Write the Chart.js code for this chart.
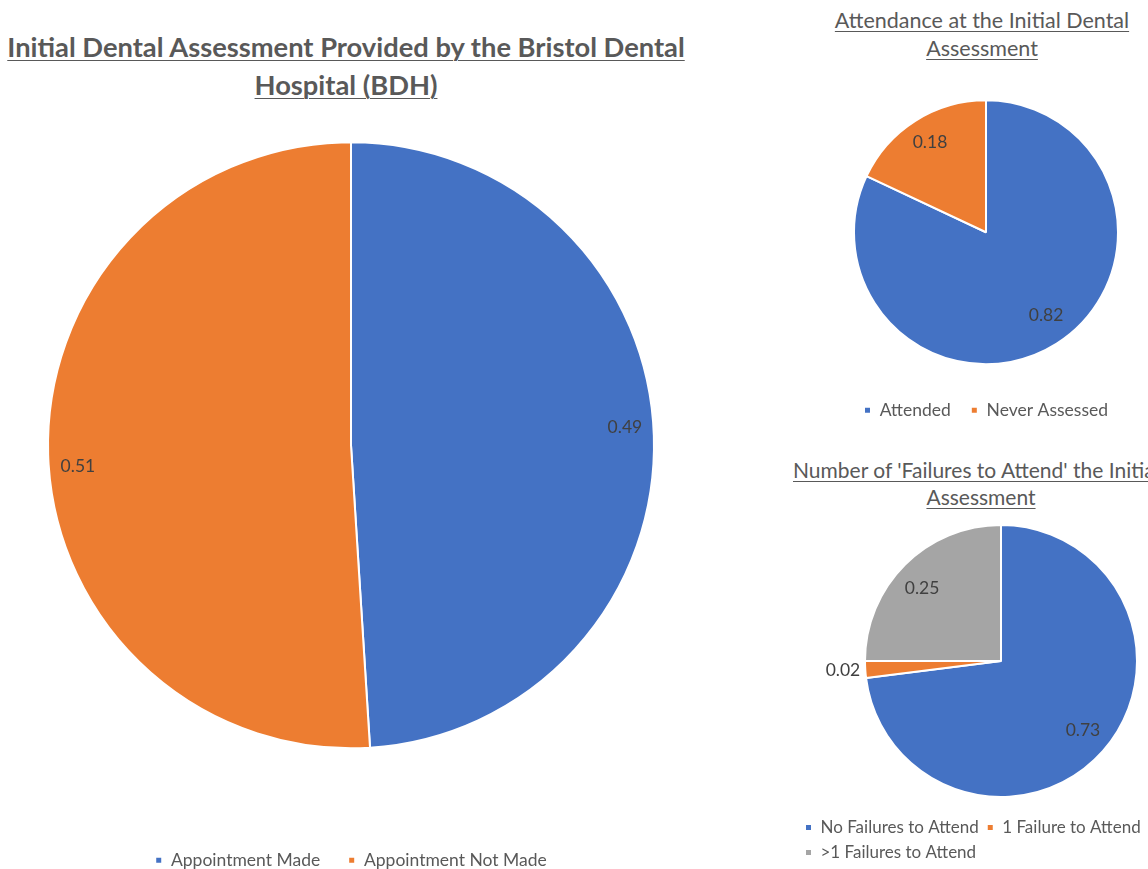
<!DOCTYPE html>
<html>
<head>
<meta charset="utf-8">
<script src="https://cdn.jsdelivr.net/npm/chart.js@4.4.1/dist/chart.umd.min.js"></script>
<style>
  body { margin: 0; background: #fff; overflow: hidden; }
  #page { position: relative; width: 1148px; height: 869px; overflow: hidden; }
  canvas { position: absolute; }
  .titulo {
    position: absolute;
    text-align: center;
    white-space: nowrap;
    color: #595959;
    font-family: Lato, "Open Sans", sans-serif;
  }
  .titulo span {
    text-decoration: underline;
    text-decoration-thickness: 1px;
    text-underline-offset: 3px;
  }
  #t1 { left: 0; width: 692px; top: 28px; font-size: 27.3px; font-weight: bold; line-height: 38px; }
  #t2 { left: 782px; width: 400px; top: 6px; font-size: 21.5px; line-height: 28px; }
  #t3 { left: 781px; width: 400px; top: 456px; font-size: 21px; line-height: 27px; }
  #t3 .l1 { display: block; text-align: left; margin-left: 12px; }
</style>
</head>
<body>
<div id="page">
  <div class="titulo" id="t1"><span>Initial Dental Assessment Provided by the Bristol Dental</span><br><span>Hospital (BDH)</span></div>
  <div class="titulo" id="t2"><span>Attendance at the Initial Dental</span><br><span>Assessment</span></div>
  <div class="titulo" id="t3"><span class="l1">Number of 'Failures to Attend' the Initial Dental</span><span>Assessment</span></div>
  <canvas id="chart-bdh" width="702" height="879" style="left:0;top:0"></canvas>
  <canvas id="chart-atendimento" width="412" height="429" style="left:780px;top:0"></canvas>
  <canvas id="chart-falhas" width="415" height="431" style="left:790px;top:440px"></canvas>
</div>
<script>
// dados
const bdhCategorias = ["Appointment Made", "Appointment Not Made"];
const bdhValores = [0.49, 0.51];

const atendCategorias = ["Attended", "Never Assessed"];
const atendValores = [0.82, 0.18];

const falhasCategorias = ["No Failures to Attend", "1 Failure to Attend", ">1 Failures to Attend"];
const falhasValores = [0.73, 0.02, 0.25];

const AZUL = "#4472C4";
const LARANJA = "#ED7D31";
const CINZA = "#A5A5A5";

Chart.defaults.font.family = "Lato, 'Open Sans', sans-serif";
Chart.defaults.color = "#595959";

// rótulos dos valores em cada fatia (distância relativa ao raio + pequeno giro em graus)
const rotulosFatias = {
  id: "rotulosFatias",
  afterDatasetsDraw(chart, args, opts) {
    const ctx = chart.ctx;
    const meta = chart.getDatasetMeta(0);
    const valores = chart.data.datasets[0].data;
    ctx.save();
    ctx.font = "17.5px Lato, 'Open Sans', sans-serif";
    ctx.fillStyle = "#404040";
    ctx.textAlign = "center";
    ctx.textBaseline = "middle";
    meta.data.forEach((arc, i) => {
      const p = arc.getProps(["x", "y", "startAngle", "endAngle", "outerRadius"], true);
      const meio = (p.startAngle + p.endAngle) / 2 + (opts.giro[i] || 0) * Math.PI / 180;
      const d = p.outerRadius * opts.dist[i];
      ctx.fillText(valores[i].toFixed(2), p.x + Math.cos(meio) * d, p.y + Math.sin(meio) * d);
    });
    ctx.restore();
  }
};

function criarPizza(el, categorias, valores, cores, cfg) {
  return new Chart(el, {
    type: "pie",
    data: {
      labels: categorias,
      datasets: [{
        data: valores,
        backgroundColor: cores,
        borderColor: "#ffffff",
        borderWidth: 2
      }]
    },
    options: {
      responsive: false,
      animation: false,
      radius: cfg.raio,
      layout: { padding: cfg.padding },
      plugins: {
        tooltip: { enabled: false },
        legend: {
          position: "bottom",
          align: cfg.align || "center",
          labels: {
            boxWidth: 7,
            boxHeight: 7,
            padding: cfg.espaco,
            color: "#595959",
            font: { size: cfg.fonte || 17.5 }
          }
        },
        rotulosFatias: { dist: cfg.dist, giro: cfg.giro }
      }
    },
    plugins: [rotulosFatias]
  });
}

criarPizza(document.getElementById("chart-bdh"), bdhCategorias, bdhValores, [AZUL, LARANJA], {
  raio: 303,
  padding: { top: 67, bottom: 0, left: 0, right: 0 },
  espaco: 28,
  dist: [0.906, 0.904],
  giro: [-2, -2.6]
});

criarPizza(document.getElementById("chart-atendimento"), atendCategorias, atendValores, [AZUL, LARANJA], {
  raio: 132,
  padding: { top: 83, bottom: 0, left: 0, right: 0 },
  espaco: 20,
  dist: [0.776, 0.803],
  giro: [-3.5, 0.5]
});

criarPizza(document.getElementById("chart-falhas"), falhasCategorias, falhasValores, [AZUL, LARANJA, CINZA], {
  raio: 136,
  padding: { top: 71, bottom: 0, left: 7, right: 0 },
  espaco: 8,
  fonte: 17,
  align: "start",
  dist: [0.788, 1.164, 0.79],
  giro: [-1.3, 0.3, -2.3]
});
</script>
</body>
</html>
